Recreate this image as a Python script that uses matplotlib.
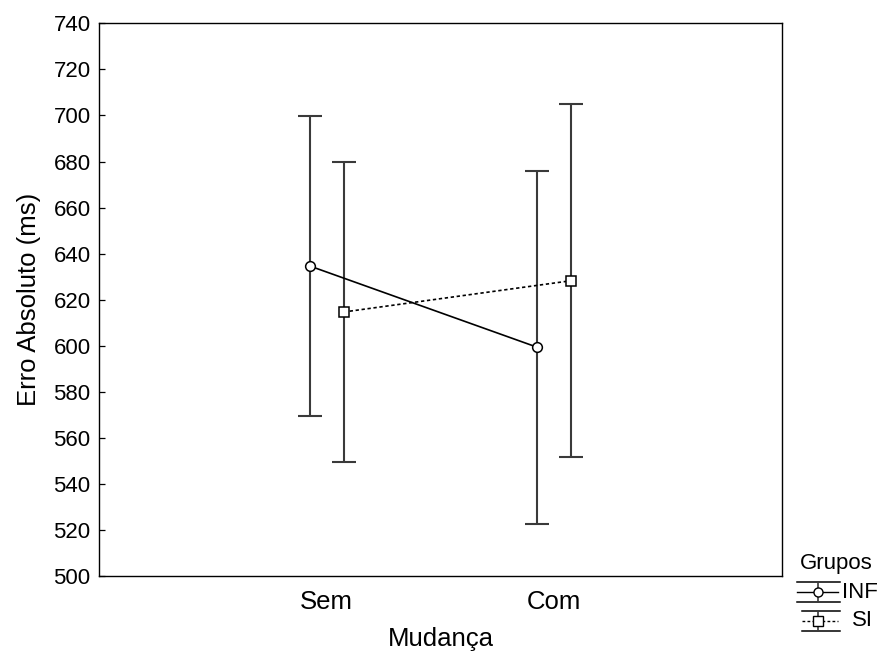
import numpy as np
import matplotlib
matplotlib.use("Agg")
from matplotlib import pyplot as plt
from matplotlib.lines import Line2D

plt.rcParams['font.family'] = ['Liberation Sans', 'DejaVu Sans']

# mean absolute error per group, with interval limits
categorias = ['Sem', 'Com']
inf_media = [634.7, 599.4]
inf_inf = [569.5, 522.7]
inf_sup = [699.9, 676.0]
si_media = [614.7, 628.3]
si_inf = [549.5, 551.6]
si_sup = [679.8, 705.1]
yticks = np.arange(500, 741, 20)

fig = plt.figure(figsize=(8.82, 6.55), dpi=100)
ax = fig.add_axes([0.1122, 0.1202, 0.7744, 0.8442])

x = np.arange(1, len(categorias) + 1)
desloc = 0.075

def desenha(xs, media, lo, hi, marker, ls):
    media = np.array(media)
    yerr = [media - np.array(lo), np.array(hi) - media]
    ax.errorbar(xs, media, yerr=yerr, fmt='none', ecolor='#3a3a3a',
                elinewidth=1.5, capsize=8.6, capthick=1.5, zorder=2)
    ax.plot(xs, media, color='black', lw=1.2, ls=ls, zorder=3)
    ax.plot(xs, media, ls='none', marker=marker, ms=7, mfc='white',
            mec='black', mew=1.1, zorder=4)

desenha(x - desloc, inf_media, inf_inf, inf_sup, 'o', '-')
desenha(x + desloc, si_media, si_inf, si_sup, 's', (0, (2, 1.6)))

ax.set_xlim(0, 3)
ax.set_ylim(500, 740)
ax.set_yticks(yticks)
ax.set_yticklabels([str(v) for v in yticks], fontsize=16)
ax.set_xticks(x)
ax.set_xticklabels(categorias, fontsize=18.5)
ax.tick_params(axis='y', direction='in', length=4, width=0.9, pad=6)
ax.tick_params(axis='x', length=0, pad=10)
for s in ax.spines.values():
    s.set_linewidth(1.0)
ax.set_ylabel('Erro Absoluto (ms)', fontsize=18.5)
ax.yaxis.set_label_coords(-0.085, 0.5)
ax.set_xlabel('Mudança', fontsize=18.5, labelpad=9)

# legend drawn by hand in figure pixels
W, H = 882.0, 655.0
def fx(px):
    return px / W
def fy(py):
    return 1 - py / H

fig.text(fx(800), fy(563), 'Grupos', fontsize=16, va='center', ha='left')
for yc, marker, ls, label, x0 in [(592, 'o', '-', 'INF', 797), (621, 's', (0, (2, 1.6)), 'SI', 802)]:
    for yy in (yc - 10, yc + 10):
        fig.add_artist(Line2D([fx(x0), fx(840)], [fy(yy), fy(yy)],
                              color='black', lw=1.1))
    fig.add_artist(Line2D([fx(818), fx(818)], [fy(yc - 10), fy(yc + 10)],
                          color='#3a3a3a', lw=1.2))
    fig.add_artist(Line2D([fx(x0), fx(838)], [fy(yc), fy(yc)],
                          color='black', lw=1.0, ls=ls))
    fig.add_artist(Line2D([fx(818)], [fy(yc)], marker=marker, ms=6.5,
                          mfc='white', mec='black', mew=1.0))
    fig.text(fx(842 if label == 'INF' else 852), fy(yc), label,
             fontsize=16, va='center', ha='left')

fig.savefig('out.png', dpi=100)
